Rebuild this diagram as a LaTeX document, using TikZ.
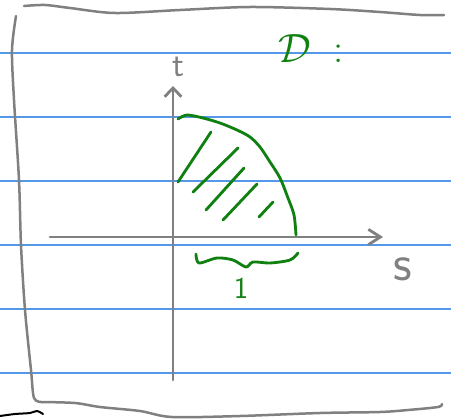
\documentclass[tikz,border=0pt]{standalone}
\usepackage{tikz}
\usetikzlibrary{arrows.meta}
\definecolor{inkgrey}{RGB}{128,128,128}
\definecolor{inkgreen}{RGB}{16,128,16}
\definecolor{ruleblue}{RGB}{84,152,232}

\begin{document}
\begin{tikzpicture}[x=0.3mm,y=-0.3mm,
  rule/.style={ruleblue,line width=0.45mm},
  frame/.style={inkgrey,line width=0.75mm,line cap=round,line join=round},
  axis/.style={inkgrey,line width=0.85mm,line cap=round},
  pen/.style={inkgreen,line width=0.85mm,line cap=round,line join=round},
  every node/.style={inner sep=0pt,font=\sffamily}]
  \useasboundingbox (0,0) rectangle (451,418);
  \foreach \y in {53,117,181,245,309,373}
    \draw[rule] (0,\y) -- (451,\y);
  % page frame
  \draw[frame] plot[smooth] coordinates {(24,6) (45,5) (70,8) (115,13) (180,10) (250,7) (330,9) (380,12) (420,15) (444,15)};
  \draw[frame] plot[smooth] coordinates {(16,16) (12,50) (14,100) (19,180) (21,245) (25,310) (31,370) (34,398) (42,402)};
  \draw[frame] plot[smooth] coordinates {(42,402) (75,403) (100,407) (140,411) (172,417) (240,416) (320,413) (380,412) (408,410) (438,407) (442,404)};
  \draw[black,line width=0.6mm,line cap=round] plot[smooth] coordinates {(0,416) (15,414) (30,413) (37,411) (43,414)};
  % axes
  \draw[axis,-{Straight Barb[length=2.6mm,width=5mm,line width=0.85mm]}] (173,380) -- (173,86);
  \draw[axis,-{Straight Barb[length=3.6mm,width=4.6mm,line width=0.85mm]}] (50,237) -- (383,237);
  \node[inkgrey,font=\sffamily\fontsize{30}{30}\selectfont] (tlab) at (178,67) {t};
  \node[inkgrey,font=\sffamily\fontsize{44}{44}\selectfont] (slab) at (403,269) {s};
  % region D
  \node[inkgreen,font=\fontsize{24.88}{24.88}\selectfont,scale=1.4,anchor=base west] (dlab) at (278,63) {$\mathcal{D}$\;\;:};
  \draw[pen] plot[smooth] coordinates {(178,119) (187,115) (203,118) (220,123) (237,130) (250,137) (260,147) (270,162) (280,178) (288,198) (294,215) (296,235)};
  \foreach \a/\b in {{(211,132)}/{(178,182)},{(238,148)}/{(193,192)},{(244,168)}/{(206,210)},{(257,184)}/{(223,220)},{(273,202)}/{(259,217)}}
    \draw[pen] \a -- \b;
  % width brace
  \draw[pen] plot[smooth] coordinates {(196,254) (199,263) (217,258) (233,260) (246,267) (253,262) (270,263) (290,260) (298,253)};
  \node[inkgreen,font=\sffamily\fontsize{26}{26}\selectfont] (one) at (241,288) {1};
\end{tikzpicture}
\end{document}
